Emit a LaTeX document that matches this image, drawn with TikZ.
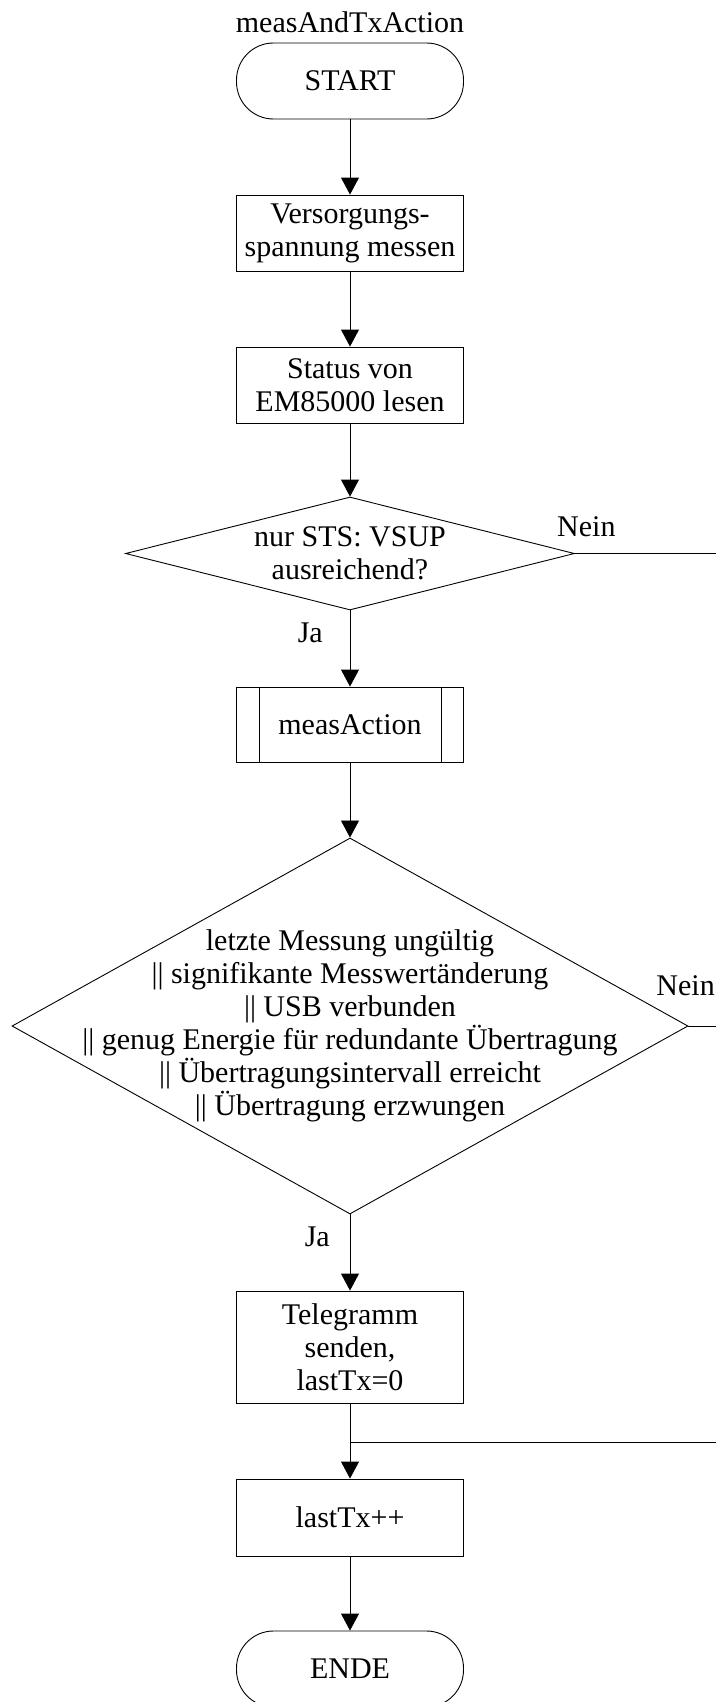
\documentclass[tikz,border=0pt]{standalone}
\usepackage{fontspec}
\setmainfont{Liberation Serif}
\usetikzlibrary{arrows.meta,positioning,shapes.geometric}
\tikzset{
  base/.style={draw=black, line width=0.9pt, align=center, font=\fontsize{30}{33}\selectfont, inner sep=0pt},
  procbox/.style={base, rectangle, minimum width=227pt, minimum height=76pt},
  termbox/.style={base, rectangle, rounded corners=37pt, minimum width=227pt, minimum height=76pt},
  decbox/.style={base, diamond},
  lbl/.style={font=\fontsize{30}{33}\selectfont, inner sep=0pt, align=center},
  arrow/.style={-{Triangle[length=17pt, width=18pt]}, line width=0.9pt, draw=black},
  flow/.style={line width=0.9pt, draw=black}
}
\begin{document}
\begin{tikzpicture}[x=1pt, y=-1pt]
  \useasboundingbox (0,0) rectangle (716,1702);
  \coordinate (rim) at (716,0);
  \node[lbl, anchor=base] (title) at (350,33) {measAndTxAction};
  \node[termbox] (start) at (350,81) {START};
  \node[procbox] (vers) at (350,233) {Versorgungs-\\spannung messen};
  \node[procbox] (stat) at (350,385) {Status von\\EM85000 lesen};
  \node[decbox, minimum width=449pt, minimum height=113pt, aspect=3.97] (q1) at (350,553.5) {nur STS: VSUP\\ausreichend?};
  \node[procbox, minimum height=75pt] (meas) at (350,724.5) {measAction};
  \node[decbox, minimum width=676pt, minimum height=376pt, aspect=1.8] (q2) at (350,1026) {};
  \node[lbl] (q2txt) at (q2) {letzte Messung ungültig\\|| signifikante Messwertänderung\\|| USB verbunden\\|| genug Energie für redundante Übertragung\\|| Übertragungsintervall erreicht\\|| Übertragung erzwungen};
  \node[procbox, minimum height=112pt] (tele) at (350,1347) {Telegramm\\senden,\\lastTx=0};
  \node[procbox, minimum height=77pt] (last) at (350,1517.5) {lastTx++};
  \node[termbox] (ende) at (350,1669) {ENDE};
  \coordinate (jn) at (350,1442);
  \node[lbl, anchor=base west] (nein1) at (557,536) {Nein};
  \node[lbl, anchor=base east] (ja1) at (323,642) {Ja};
  \node[lbl, anchor=base east] (nein2) at (715,995) {Nein};
  \node[lbl, anchor=base east] (ja2) at (330,1246) {Ja};
  \draw[flow] ([xshift=23pt]meas.north west) -- ([xshift=23pt]meas.south west);
  \draw[flow] ([xshift=-23pt]meas.north east) -- ([xshift=-23pt]meas.south east);
  \draw[arrow] (start) -- (vers);
  \draw[arrow] (vers) -- (stat);
  \draw[arrow] (stat) -- (q1);
  \draw[arrow] (q1) -- (meas);
  \draw[arrow] (meas) -- (q2);
  \draw[arrow] (q2) -- (tele);
  \draw[arrow] (tele) -- (last);
  \draw[arrow] (last) -- (ende);
  \draw[flow] (q1.east) -- (q1.east -| rim);
  \draw[flow] (q2.east) -- (q2.east -| rim);
  \draw[flow] (jn -| rim) -- (jn);
\end{tikzpicture}
\end{document}
